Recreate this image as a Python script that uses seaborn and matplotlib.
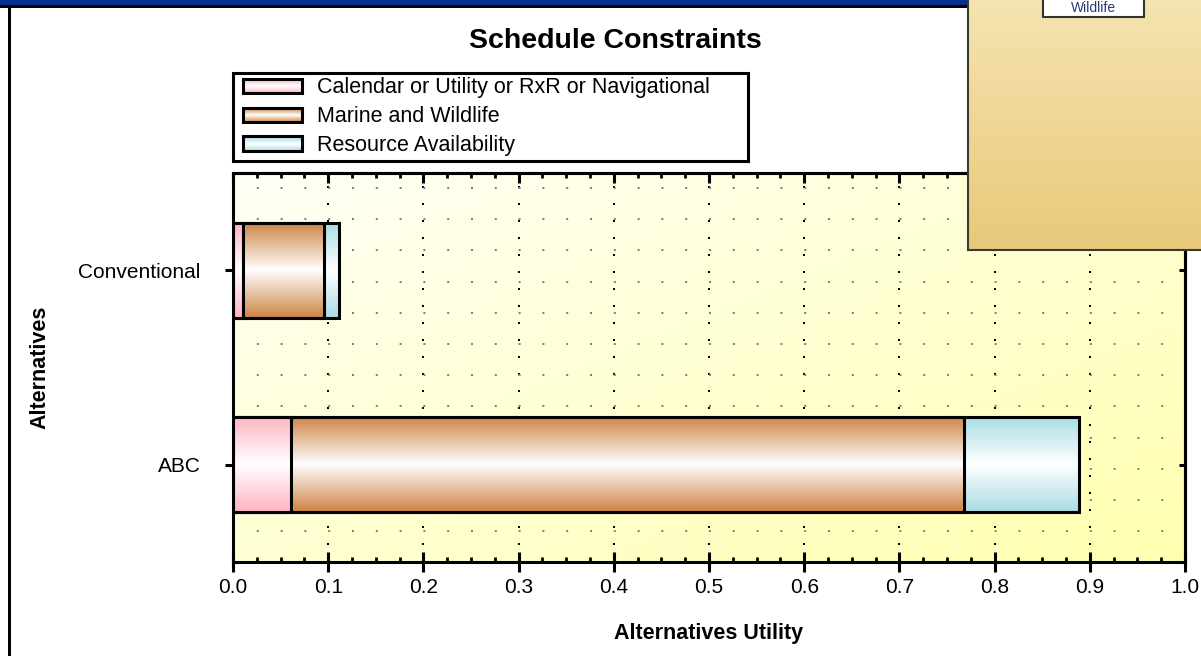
import numpy as np
import pandas as pd
import matplotlib
matplotlib.use("Agg")
import matplotlib.pyplot as plt
import seaborn as sns
from matplotlib.colors import to_rgb
from matplotlib.patches import Rectangle
from matplotlib.legend_handler import HandlerBase
from matplotlib.ticker import MultipleLocator, FixedLocator

# ---- data -------------------------------------------------------------
alternatives = ["Conventional", "ABC"]
series_names = [
    "Calendar or Utility or RxR or Navigational",
    "Marine and Wildlife",
    "Resource Availability",
]
calendar_utility = [0.010, 0.061]
marine_wildlife = [0.086, 0.707]
resource_availability = [0.015, 0.121]
x_ticks = [0.0, 0.1, 0.2, 0.3, 0.4, 0.5, 0.6, 0.7, 0.8, 0.9, 1.0]

series_colors = ["#FFB3C1", "#CD8443", "#A8DCE3"]

plt.rcParams["font.family"] = ["Liberation Sans", "DejaVu Sans"]

W, H = 1201, 656
fig = plt.figure(figsize=(W / 100, H / 100), dpi=100)
fig.patch.set_facecolor("white")
ax = fig.add_axes([233 / W, 1 - 562 / H, 952 / W, 389 / H])

# ---- plot background: diagonal cream-to-yellow wash --------------------
n = 200
u = np.linspace(0, 1, n)[None, :]
v = np.linspace(0, 1, n)[:, None]
t = (u + v) / 2
c_tl = np.array([255, 255, 246]) / 255
c_br = np.array([255, 255, 176]) / 255
bg = c_tl[None, None, :] + (c_br - c_tl)[None, None, :] * t[:, :, None]
ax.imshow(bg, extent=[0, 1, 0, 1], transform=ax.transAxes, aspect="auto",
          zorder=0, interpolation="bilinear")

# ---- stacked bars (drawn as cumulative layers, largest first) ----------
df = pd.DataFrame({
    "Alternative": alternatives,
    series_names[0]: calendar_utility,
    series_names[1]: marine_wildlife,
    series_names[2]: resource_availability,
})
cum = df[series_names].cumsum(axis=1)


def gradient_column(color, n=256):
    c = np.array(to_rgb(color))
    s = np.linspace(-1, 1, n)
    w = 1 - np.abs(s)
    return (c[None, :] + (1 - c)[None, :] * w[:, None])[:, None, :]


layer_z = 2.0
for idx in reversed(range(len(series_names))):
    before = len(ax.patches)
    sns.barplot(data=cum.assign(Alternative=df["Alternative"]),
                x=series_names[idx], y="Alternative", order=alternatives,
                orient="h", color=series_colors[idx], saturation=1,
                width=0.49, edgecolor="black", linewidth=2.2,
                errorbar=None, ax=ax)
    grad = gradient_column(series_colors[idx])
    for p in ax.patches[before:]:
        x0, y0 = p.get_x(), p.get_y()
        w, h = p.get_width(), p.get_height()
        ax.imshow(grad, extent=[x0, x0 + w, y0 + h, y0], aspect="auto",
                  zorder=layer_z, interpolation="bilinear")
        p.set_facecolor("none")
        p.set_zorder(layer_z + 0.5)
    layer_z += 1

ax.set_xlim(0, 1)
ax.set_ylim(1.5, -0.5)

# ---- grid ---------------------------------------------------------------
ax.set_axisbelow(True)
ax.set_xticks(x_ticks)
ax.set_xticklabels([f"{x:.1f}" for x in x_ticks])
ax.xaxis.set_minor_locator(MultipleLocator(0.025))
ax.grid(axis="x", which="major", color="black", linestyle=(0, (1, 7.5)),
        linewidth=1.44, zorder=1)
ax.yaxis.set_minor_locator(FixedLocator(np.arange(12) * 0.1604 - 0.4228))
ax.grid(axis="y", which="minor", color="#808080", linestyle=(0, (1, 10.9)),
        linewidth=1.44, zorder=1)

# ---- ticks & spines -----------------------------------------------------
for s in ax.spines.values():
    s.set_linewidth(2.2)
    s.set_color("black")
    s.set_zorder(6)

ax.tick_params(axis="x", which="major", direction="inout", length=14,
               width=2.2, pad=4.5, labelsize=15, colors="black")
ax.tick_params(axis="x", which="minor", direction="in", length=3.6, width=2)
ax.tick_params(axis="y", which="major", direction="inout", length=12,
               width=2.2, pad=17.5, labelsize=15)
ax.tick_params(axis="y", which="minor", length=0)

top = ax.secondary_xaxis("top")
top.set_xticks(x_ticks)
top.xaxis.set_minor_locator(MultipleLocator(0.025))
top.tick_params(axis="x", which="major", direction="in", length=7,
                width=2.2, labeltop=False)
top.tick_params(axis="x", which="minor", direction="in", length=3.6, width=2)
top.spines["top"].set_linewidth(2.2)

right = ax.secondary_yaxis("right")
right.set_yticks([0, 1])
right.tick_params(axis="y", which="major", direction="in", length=4.5,
                  width=2.2, labelright=False)
right.yaxis.set_minor_locator(FixedLocator([]))
right.spines["right"].set_linewidth(2.2)

# ---- labels -------------------------------------------------------------
ax.set_xlabel("Alternatives Utility", fontsize=15.5, fontweight="bold")
ax.xaxis.set_label_coords(0.5, -0.156)
ax.set_ylabel("Alternatives", fontsize=15.5, fontweight="bold")
ax.yaxis.set_label_coords(-0.192, 0.5)

fig.text(615 / W, 1 - 41 / H, "Schedule Constraints", fontsize=20.5,
         fontweight="bold", ha="center", va="center")


# ---- legend with gradient swatches -------------------------------------
class GradientSwatch(HandlerBase):
    """Banded swatch that fades from the series colour to white mid-height."""

    def __init__(self, color, bands=14, inset=0.09):
        super().__init__()
        self.color = np.array(to_rgb(color))
        self.bands = bands
        self.inset = inset

    def create_artists(self, legend, orig_handle, xdescent, ydescent,
                       width, height, fontsize, trans):
        arts = []
        left = -xdescent + width * self.inset
        sw = width * (1 - self.inset)
        for k in range(self.bands):
            f = (k + 0.5) / self.bands
            w = 1 - abs(2 * f - 1)
            col = self.color + (1 - self.color) * w
            arts.append(Rectangle((left, -ydescent + height * k / self.bands),
                                  sw, height / self.bands, facecolor=col,
                                  edgecolor="none", transform=trans))
        arts.append(Rectangle((left, -ydescent), sw, height,
                              facecolor="none", edgecolor="black",
                              linewidth=2.2, transform=trans))
        return arts


handles = [Rectangle((0, 0), 1, 1, facecolor=c) for c in series_colors]
leg = ax.legend(handles, series_names,
                handler_map={h: GradientSwatch(c) for h, c in zip(handles, series_colors)},
                loc="upper left", mode="expand",
                bbox_to_anchor=(233 / W, 1 - 159 / H, 515 / W, 86 / H),
                bbox_transform=fig.transFigure, borderaxespad=0,
                fontsize=15.5, handlelength=3.0, handleheight=0.65,
                handletextpad=0.7, labelspacing=0.37, borderpad=0.2,
                fancybox=False, framealpha=1, edgecolor="black")
leg.get_frame().set_linewidth(2.2)
leg.set_zorder(7)

# ---- window chrome ------------------------------------------------------
fig.add_artist(Rectangle((0, 1 - 5 / H), 1, 5 / H, transform=fig.transFigure,
                         facecolor="#06308E", edgecolor="none", zorder=5))
fig.add_artist(Rectangle((0, 1 - 8 / H), 1, 3 / H, transform=fig.transFigure,
                         facecolor="black", edgecolor="none", zorder=5))
fig.add_artist(Rectangle((8 / W, 0), 3 / W, 1 - 5 / H, transform=fig.transFigure,
                         facecolor="black", edgecolor="none", zorder=5))

# ---- sticky note in the upper-right corner -----------------------------
note = fig.add_axes([968 / W, 1 - 250 / H, 233 / W, 250 / H], zorder=10)
ny = np.linspace(0, 1, 120)[:, None, None]
note_top = np.array([245, 228, 176]) / 255
note_bot = np.array([233, 200, 122]) / 255
note_img = note_top + (note_bot - note_top) * ny
note_img = np.repeat(note_img, 2, axis=1)
note.imshow(note_img, extent=[0, 1, 0, 1], aspect="auto", interpolation="bilinear")
note.set_xlim(0, 1)
note.set_ylim(0, 1)
note.set_xticks([])
note.set_yticks([])
for side in ("top", "right"):
    note.spines[side].set_visible(False)
for side in ("left", "bottom"):
    note.spines[side].set_color("#3b3a30")
    note.spines[side].set_linewidth(1.5)
note.add_patch(Rectangle((0.322, 0.932), 0.433, 0.2, facecolor="white",
                         edgecolor="#333333", linewidth=1.5, zorder=3))
note.text(0.539, 1 - 8 / 250, "Wildlife", ha="center", va="center",
          fontsize=10, color="#2b3a78", zorder=4)

fig.savefig("out.png", dpi=100, facecolor="white")
